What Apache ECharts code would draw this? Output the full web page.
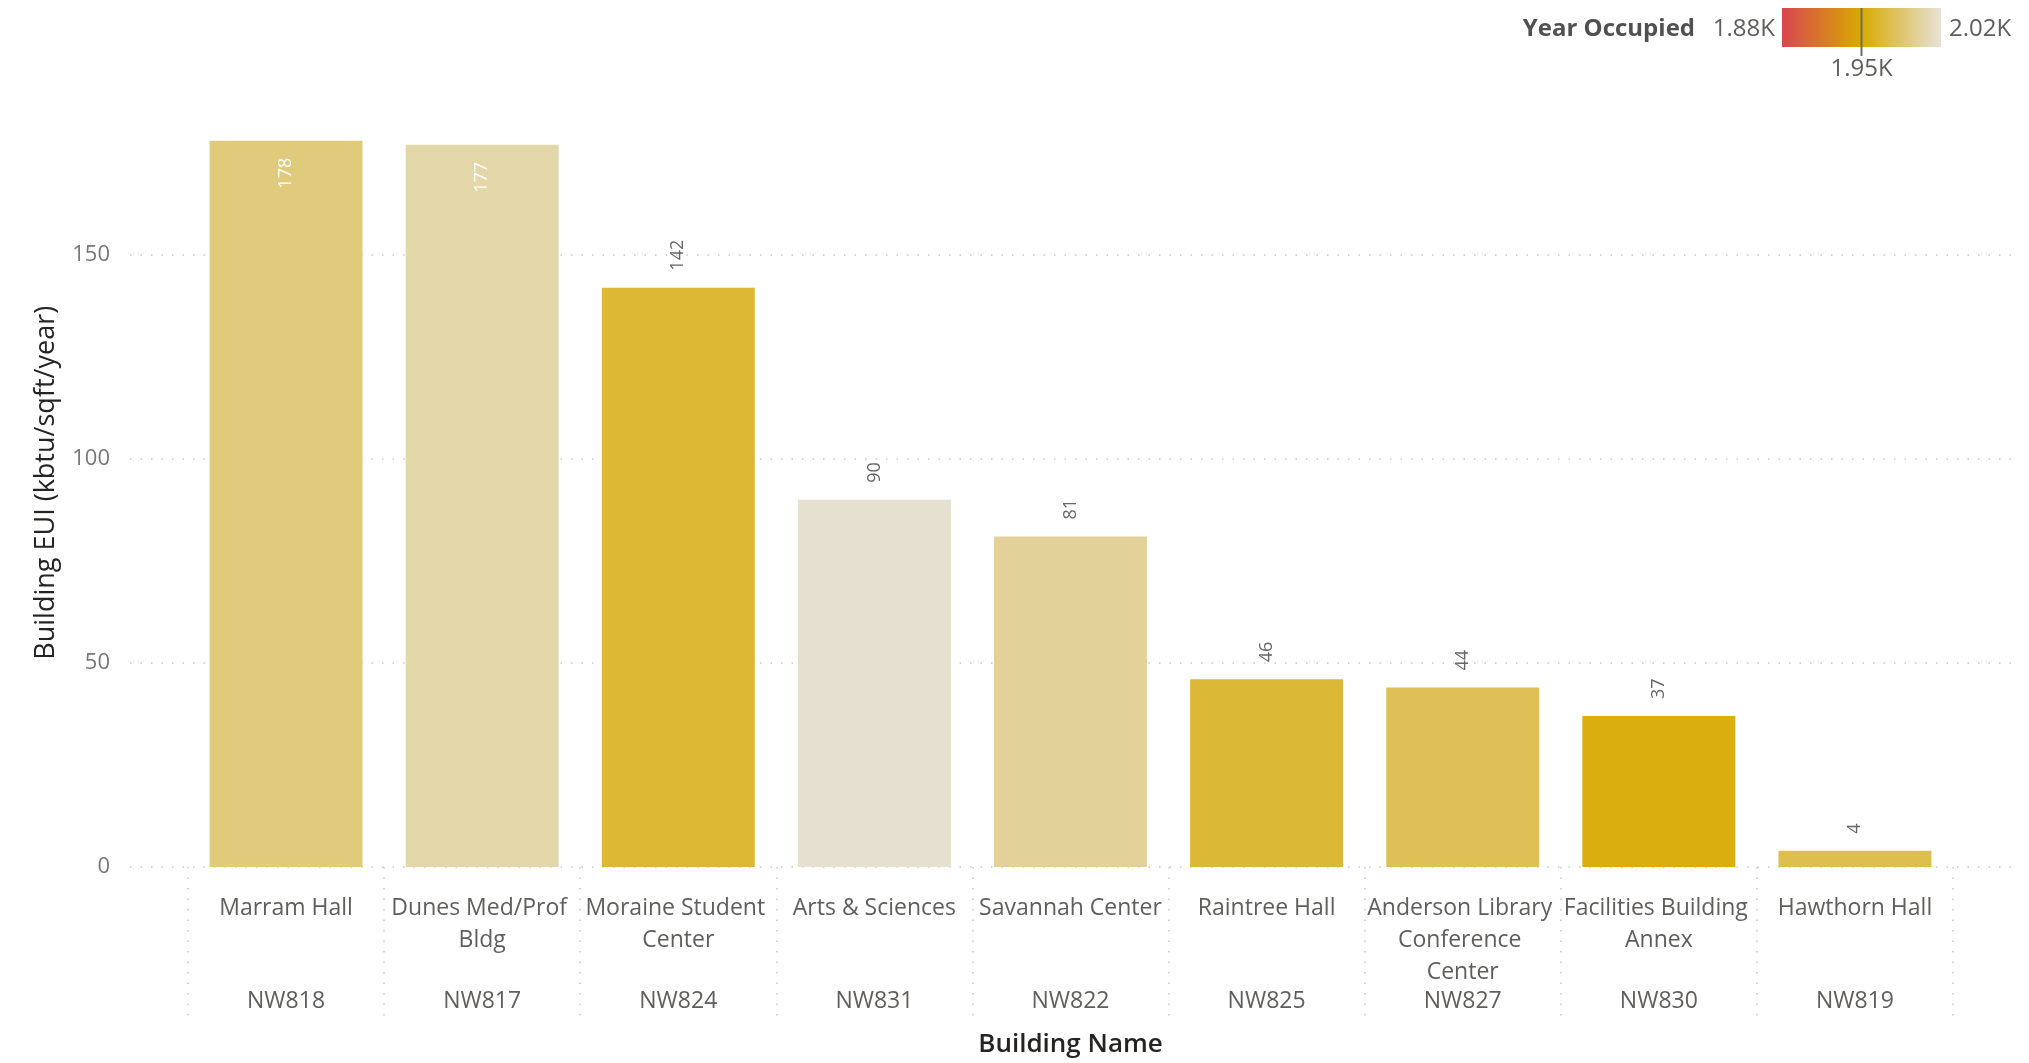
<!DOCTYPE html>
<html>
<head>
<meta charset="utf-8">
<title>Building EUI</title>
<script src="https://cdn.jsdelivr.net/npm/echarts@6/dist/echarts.min.js"></script>
<style>
  html, body { margin: 0; padding: 0; background: #fff; }
  #chart { width: 2029px; height: 1063px; }
</style>
</head>
<body>
<div id="chart"></div>
<script>
  // data
  const buildings = ['Marram Hall', 'Dunes Med/Prof Bldg', 'Moraine Student Center', 'Arts & Sciences',
    'Savannah Center', 'Raintree Hall', 'Anderson Library Conference Center', 'Facilities Building Annex', 'Hawthorn Hall'];
  const codes = ['NW818', 'NW817', 'NW824', 'NW831', 'NW822', 'NW825', 'NW827', 'NW830', 'NW819'];
  const eui = [178, 177, 142, 90, 81, 46, 44, 37, 4];
  const yearOccupied = [1990, 2005, 1967, 2018, 2000, 1968, 1978, 1955, 1975];
  const yearRange = [1880, 2020];
  const yearLabels = ['1.88K', '1.95K', '2.02K'];

  const font = '"Open Sans", "Segoe UI", sans-serif';
  const gradColors = ['#D8464F', '#D9AA00', '#E6E2D7'];
  const dotted = { color: '#C8C6C4', width: 1.5, type: [1.5, 9] };

  let chart = echarts.init(document.getElementById('chart'));

  let barData = buildings.map(function (b, i) {
    let inside = eui[i] > 160; // no room above the bar, label goes inside
    return {
      value: [b, eui[i], yearOccupied[i]],
      label: inside
        ? { position: 'insideTop', align: 'right', color: '#ffffff' }
        : { position: 'top', align: 'left', color: '#666666' }
    };
  });

  // legend drawn by hand, power bi style
  let lx = 1782, ly = 8, lw = 159, lh = 39;
  let ty = 29;
  let legend = [
    { type: 'text', x: 1695, y: ty, style: { text: 'Year Occupied', font: 'bold 24px ' + font, fill: '#505050', align: 'right', verticalAlign: 'middle' } },
    { type: 'text', x: lx - 7, y: ty, style: { text: yearLabels[0], font: '24px ' + font, fill: '#605E5C', align: 'right', verticalAlign: 'middle' } },
    { type: 'rect', shape: { x: lx, y: ly, width: lw, height: lh },
      style: { fill: new echarts.graphic.LinearGradient(0, 0, 1, 0, [
        { offset: 0, color: gradColors[0] }, { offset: 0.5, color: gradColors[1] }, { offset: 1, color: gradColors[2] }]) } },
    { type: 'text', x: lx + lw + 8, y: ty, style: { text: yearLabels[2], font: '24px ' + font, fill: '#605E5C', align: 'left', verticalAlign: 'middle' } },
    { type: 'line', shape: { x1: lx + lw / 2, y1: ly, x2: lx + lw / 2, y2: 56 }, style: { stroke: '#6b6b6b', lineWidth: 2 } },
    { type: 'text', x: lx + lw / 2, y: 69, style: { text: yearLabels[1], font: '24px ' + font, fill: '#605E5C', align: 'center', verticalAlign: 'middle' } }
  ];

  let option = {
    animation: false,
    textStyle: { fontFamily: font },
    graphic: legend,
    visualMap: {
      type: 'continuous',
      show: false,
      seriesIndex: 0,
      dimension: 2,
      min: yearRange[0],
      max: yearRange[1],
      inRange: { color: gradColors }
    },
    grid: [
      { left: 130, right: 17, top: 132.6, bottom: 196 },
      { left: 188, right: 76, top: 132.6, bottom: 196 }
    ],
    xAxis: [
      { type: 'value', gridIndex: 0, show: false },
      {
        type: 'category',
        gridIndex: 1,
        position: 'bottom',
        data: buildings,
        name: 'Building Name',
        nameLocation: 'middle',
        nameGap: 165,
        nameTextStyle: { fontSize: 26, fontWeight: 600, color: '#252423' },
        axisLine: { show: false },
        axisTick: { show: true, interval: 0, length: 151, lineStyle: dotted },
        axisLabel: {
          interval: 0, margin: 25, fontSize: 23, color: '#605E5C', lineHeight: 32,
          width: 192, overflow: 'break', verticalAlign: 'top'
        }
      },
      {
        type: 'category',
        gridIndex: 1,
        position: 'bottom',
        data: codes,
        axisLine: { show: false },
        axisTick: { show: false },
        axisLabel: { interval: 0, margin: 118, fontSize: 23, color: '#605E5C', lineHeight: 32, verticalAlign: 'top' }
      }
    ],
    yAxis: [
      {
        type: 'value',
        gridIndex: 0,
        min: 0,
        max: 180,
        interval: 50,
        name: 'Building EUI (kbtu/sqft/year)',
        nameLocation: 'middle',
        nameGap: 70,
        nameTextStyle: { fontSize: 27, color: '#252423', padding: [0, 0, 0, 34] },
        axisLine: { show: false },
        axisTick: { show: false },
        axisLabel: { fontSize: 22, color: '#777777', margin: 20, showMaxLabel: false },
        splitLine: { show: true, showMaxLine: false, lineStyle: dotted }
      },
      { type: 'value', gridIndex: 1, min: 0, max: 180, show: false, splitLine: { show: false } }
    ],
    series: [{
      type: 'bar',
      xAxisIndex: 1,
      yAxisIndex: 1,
      encode: { x: 0, y: 1 },
      barCategoryGap: '22%',
      data: barData,
      label: {
        show: true,
        rotate: 90,
        verticalAlign: 'middle',
        distance: 17,
        fontSize: 18,
        formatter: function (p) { return p.value[1]; }
      }
    }]
  };

  chart.setOption(option);
</script>
</body>
</html>
